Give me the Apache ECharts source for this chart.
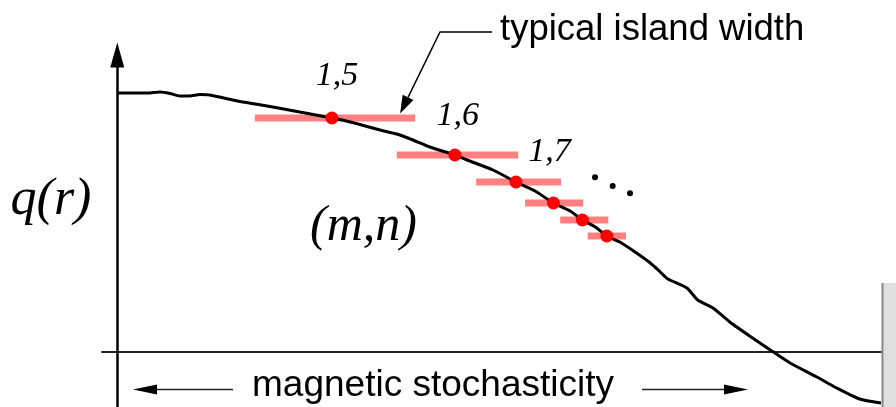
<!DOCTYPE html>
<html>
<head>
<meta charset="utf-8">
<style>
  html, body { margin: 0; padding: 0; background: #fff; }
  #chart { width: 896px; height: 407px; }
</style>
<script src="https://cdn.jsdelivr.net/npm/echarts@6.0.0/dist/echarts.min.js"></script>
</head>
<body>
<div id="chart"></div>
<script>
// Safety-factor profile q(r) along the normalised minor radius r
const profileR = [0.000, 0.040, 0.056, 0.069, 0.082, 0.095, 0.108, 0.121, 0.161, 0.200,
                  0.239, 0.281, 0.305, 0.344, 0.366, 0.387, 0.409, 0.442, 0.458, 0.492,
                  0.522, 0.547, 0.571, 0.593, 0.609, 0.626, 0.641, 0.658, 0.678, 0.698,
                  0.711, 0.721, 0.746, 0.760, 0.780, 0.802, 0.828, 0.857, 0.881, 0.916,
                  0.942, 0.972, 1.000];
const profileQ = [2.59, 2.59, 2.60, 2.585, 2.56, 2.56, 2.575, 2.57, 2.505, 2.455,
                  2.40, 2.34, 2.30, 2.22, 2.18, 2.12, 2.05, 1.97, 1.92, 1.82,
                  1.70, 1.61, 1.49, 1.41, 1.32, 1.25, 1.16, 1.10, 1.00, 0.89,
                  0.80, 0.73, 0.64, 0.52, 0.44, 0.30, 0.16, 0.01, -0.11, -0.25,
                  -0.36, -0.47, -0.51];

// Rational surfaces (m,n) on the profile
const modeNames = ['1,5', '1,6', '1,7', '', '', ''];
const modeR = [0.281, 0.442, 0.522, 0.571, 0.609, 0.641];
const modeQ = [2.34, 1.97, 1.70, 1.49, 1.32, 1.16];

// Radial extent of the magnetic island on each surface
const islandInner = [0.180, 0.366, 0.470, 0.534, 0.580, 0.616];
const islandOuter = [0.390, 0.525, 0.581, 0.610, 0.643, 0.666];

// Axis extents
const rRange = [-0.02, 1.0];
const qRange = [-0.55, 2.97];

// Text
const yAxisTitle = 'q(r)';
const modeTitle = '(m,n)';
const islandNote = 'typical island width';
const regionNote = 'magnetic stochasticity';

// Label placement relative to each marked surface
const modeLabelOffset = [[5, -41.5], [3, -38.5], [33.5, -29.5], [0, 0], [0, 0], [0, 0]];

const SERIF = '"Liberation Serif", "Times New Roman", serif';
const SANS = '"Liberation Sans", Arial, sans-serif';

const chart = echarts.init(document.getElementById('chart'), null, { renderer: 'canvas' });

chart.setOption({
  animation: false,
  backgroundColor: '#ffffff',
  grid: { left: 102, right: 15, top: 55, bottom: 0, containLabel: false },
  xAxis: {
    type: 'value',
    min: rRange[0], max: rRange[1],
    axisLine: { onZero: true, lineStyle: { color: '#222', width: 2 } },
    axisTick: { show: false },
    axisLabel: { show: false },
    splitLine: { show: false }
  },
  yAxis: {
    type: 'value',
    min: qRange[0], max: qRange[1],
    axisLine: {
      show: true, onZero: true,
      symbol: ['none', 'triangle'], symbolSize: [14, 25],
      lineStyle: { color: '#000', width: 2.5 }
    },
    axisTick: { show: false },
    axisLabel: { show: false },
    splitLine: { show: false }
  },
  series: [
    {
      name: 'island width',
      type: 'custom',
      z: 1,
      data: islandInner.map((a, i) => [a, islandOuter[i], modeQ[i]]),
      encode: { x: [0, 1], y: 2 },
      renderItem(params, api) {
        const p0 = api.coord([api.value(0), api.value(2)]);
        const p1 = api.coord([api.value(1), api.value(2)]);
        return {
          type: 'rect',
          shape: { x: p0[0], y: p0[1] - 3.5, width: p1[0] - p0[0], height: 7 },
          style: { fill: '#ff8080' }
        };
      }
    },
    {
      name: 'q profile',
      type: 'line',
      z: 2,
      data: profileR.map((r, i) => [r, profileQ[i]]),
      showSymbol: false,
      smooth: 0.2,
      clip: false,
      lineStyle: { color: '#000', width: 3 }
    },
    {
      name: 'rational surfaces',
      type: 'scatter',
      z: 3,
      symbolSize: 13,
      itemStyle: { color: '#ff0000', opacity: 1 },
      data: modeR.map((r, i) => ({
        value: [r, modeQ[i]],
        label: {
          show: modeNames[i] !== '',
          formatter: modeNames[i],
          offset: modeLabelOffset[i]
        }
      })),
      label: {
        position: 'inside',
        align: 'center',
        verticalAlign: 'middle',
        color: '#000',
        opacity: 1,
        fontFamily: SERIF,
        fontStyle: 'italic',
        fontSize: 34
      }
    }
  ]
});

// Arrow head polygon pointing from `from` to `tip`
function arrowHead(tip, from, len, half) {
  const dx = tip[0] - from[0], dy = tip[1] - from[1];
  const d = Math.hypot(dx, dy);
  const ux = dx / d, uy = dy / d;
  const bx = tip[0] - ux * len, by = tip[1] - uy * len;
  return {
    base: [bx, by],
    points: [tip, [bx - uy * half, by + ux * half], [bx + uy * half, by - ux * half]]
  };
}

// Leader for the island-width note ends on top of the first island
const islandEnd = chart.convertToPixel({ gridIndex: 0 }, [islandOuter[0], modeQ[0]]);
const leaderTip = [islandEnd[0] - 15, islandEnd[1] - 4.5];
const leaderElbow = [440, 32];
const leaderHead = arrowHead(leaderTip, leaderElbow, 18, 6);

const leftHead = arrowHead([133, 389.5], [233, 389.5], 24, 5);
const rightHead = arrowHead([748, 389.5], [642, 389.5], 24, 5);

chart.setOption({
  graphic: [
    // panel edge at the right
    { type: 'rect', z: 50, shape: { x: 882, y: 283, width: 14, height: 124 }, style: { fill: '#e0e0e0' } },
    { type: 'rect', z: 51, shape: { x: 881.5, y: 283, width: 2, height: 124 }, style: { fill: '#888' } },

    // island width note
    {
      type: 'polyline', z: 60,
      shape: { points: [[492, 32], leaderElbow, leaderHead.base] },
      style: { stroke: '#000', lineWidth: 1.5, fill: null }
    },
    { type: 'polygon', z: 60, shape: { points: leaderHead.points }, style: { fill: '#000' } },
    {
      type: 'text', z: 60, x: 500, y: 29.5,
      style: { text: islandNote, font: '36.5px ' + SANS, fill: '#000', align: 'left', verticalAlign: 'middle' }
    },

    // continuation of the sequence of surfaces
    { type: 'circle', z: 60, shape: { cx: 595, cy: 177.3, r: 3 }, style: { fill: '#000' } },
    { type: 'circle', z: 60, shape: { cx: 612.7, cy: 186, r: 3 }, style: { fill: '#000' } },
    { type: 'circle', z: 60, shape: { cx: 630, cy: 193.3, r: 3 }, style: { fill: '#000' } },

    // axis title and mode notation
    {
      type: 'text', z: 60, x: 51, y: 200,
      style: { text: yAxisTitle, font: 'italic 52px ' + SERIF, fill: '#000', align: 'center', verticalAlign: 'middle' }
    },
    {
      type: 'text', z: 60, x: 363.5, y: 226.4,
      style: { text: modeTitle, font: 'italic 50px ' + SERIF, fill: '#000', align: 'center', verticalAlign: 'middle' }
    },

    // stochastic region marker
    {
      type: 'text', z: 60, x: 433, y: 385.5,
      style: { text: regionNote, font: '37px ' + SANS, fill: '#000', align: 'center', verticalAlign: 'middle' }
    },
    {
      type: 'line', z: 60,
      shape: { x1: 233, y1: 389.5, x2: leftHead.base[0], y2: 389.5 },
      style: { stroke: '#222', lineWidth: 1.5 }
    },
    { type: 'polygon', z: 60, shape: { points: leftHead.points }, style: { fill: '#000' } },
    {
      type: 'line', z: 60,
      shape: { x1: 642, y1: 389.5, x2: rightHead.base[0], y2: 389.5 },
      style: { stroke: '#222', lineWidth: 1.5 }
    },
    { type: 'polygon', z: 60, shape: { points: rightHead.points }, style: { fill: '#000' } }
  ]
});
</script>
</body>
</html>
